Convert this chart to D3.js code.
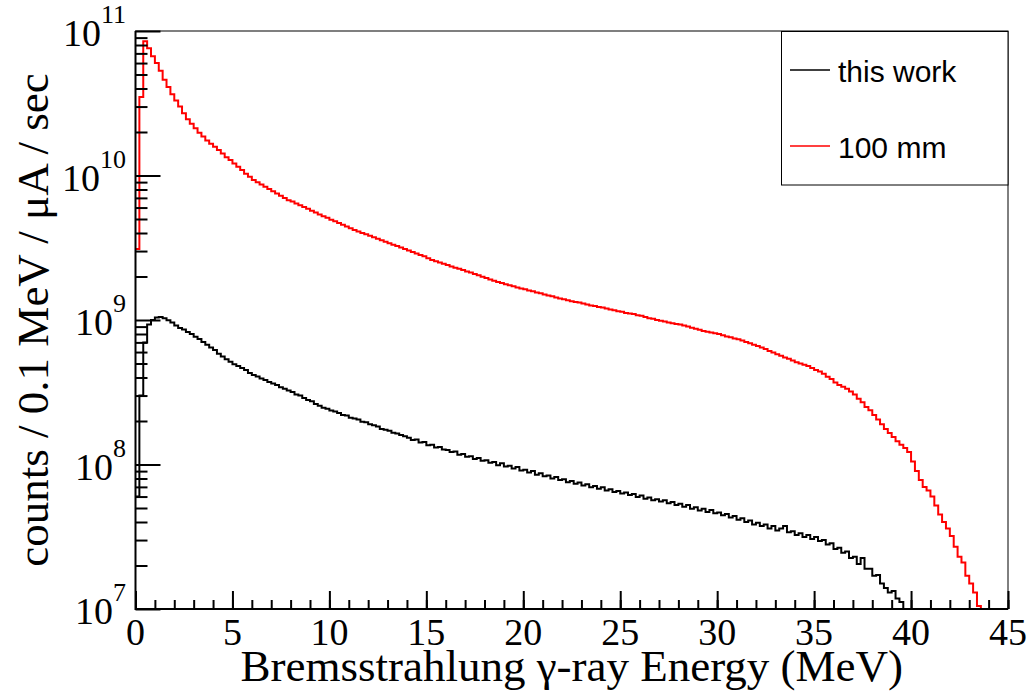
<!doctype html>
<html>
<head>
<meta charset="utf-8"/>
<title>Bremsstrahlung spectrum</title>
<script src="https://d3js.org/d3.v7.min.js"></script>
<style>
body{margin:0;background:#fff;}
text{fill:#000;}
</style>
</head>
<body>
<script>
// histogram bins, 0.2 MeV wide, first bin starts at 0 MeV
var binWidth = 0.2;
var seriesNames = ["this work", "100 mm"];
var seriesColors = ["black", "red"];

// "this work", counts in units of 1e8
var thisWorkUnit = 1e8;
var thisWork = [
 0.6,3.0,7.0,9.3,10.0,10.4,10.5,10.3,9.95,9.6,
 9.15,8.8,8.6,8.25,8.0,7.65,7.4,7.05,6.75,6.45,
 6.2,5.85,5.6,5.35,5.15,4.95,4.8,4.65,4.5,4.3,
 4.16,4.07,3.93,3.85,3.72,3.63,3.55,3.42,3.35,3.25,
 3.18,3.05,3.0,2.88,2.8,2.74,2.62,2.55,2.47,2.43,
 2.36,2.33,2.27,2.2,2.18,2.11,2.08,2.05,1.98,1.96,
 1.9,1.87,1.83,1.76,1.74,1.71,1.66,1.64,1.6,1.57,
 1.53,1.48,1.49,1.42,1.43,1.36,1.37,1.31,1.32,1.27,
 1.26,1.22,1.23,1.17,1.18,1.13,1.14,1.09,1.11,1.06,
 1.07,1.03,1.04,0.99,1.02,0.97,0.98,0.94,0.96,0.91,
 0.92,0.88,0.9,0.85,0.87,0.83,0.84,0.8,0.82,0.78,
 0.79,0.755,0.77,0.735,0.75,0.715,0.73,0.695,0.71,0.68,
 0.695,0.66,0.675,0.645,0.655,0.63,0.64,0.615,0.625,0.595,
 0.61,0.58,0.59,0.565,0.575,0.555,0.565,0.54,0.55,0.525,
 0.535,0.51,0.525,0.495,0.505,0.48,0.495,0.47,0.485,0.46,
 0.465,0.445,0.455,0.43,0.44,0.415,0.425,0.4,0.41,0.385,
 0.395,0.375,0.385,0.36,0.375,0.35,0.36,0.375,0.34,0.345,
 0.325,0.335,0.315,0.325,0.305,0.315,0.295,0.3,0.28,0.285,
 0.26,0.265,0.245,0.25,0.225,0.23,0.205,0.225,0.19,0.19,
 0.17,0.172,0.15,0.14,0.13,0.133,0.118,0.112,0.098
];

// "100 mm", counts in units of 1e9
var mm100Unit = 1e9;
var mm100 = [
 3.1,35,85,76,67,60,53,46,41,36.5,
 33,30,27,24.5,22.8,21.2,19.8,18.6,17.5,16.6,
 15.8,15,14.2,13.4,12.8,12.1,11.5,10.9,10.3,9.8,
 9.3,8.97,8.66,8.36,8.07,7.79,7.51,7.25,7.0,6.75,
 6.6,6.4,6.22,6.05,5.88,5.7,5.55,5.38,5.23,5.1,
 4.95,4.82,4.7,4.57,4.44,4.32,4.2,4.1,4.0,3.92,
 3.83,3.74,3.65,3.56,3.48,3.4,3.32,3.25,3.18,3.1,
 3.03,2.96,2.89,2.82,2.76,2.68,2.6,2.55,2.5,2.45,
 2.4,2.35,2.3,2.26,2.22,2.17,2.13,2.08,2.04,1.99,
 1.95,1.91,1.87,1.83,1.8,1.77,1.74,1.71,1.68,1.65,
 1.63,1.6,1.58,1.55,1.53,1.5,1.48,1.46,1.43,1.41,
 1.39,1.37,1.35,1.33,1.32,1.3,1.28,1.26,1.25,1.23,
 1.22,1.2,1.18,1.17,1.15,1.14,1.12,1.11,1.1,1.08,
 1.07,1.05,1.03,1.02,1.0,0.99,0.975,0.96,0.95,0.94,
 0.93,0.915,0.9,0.885,0.87,0.855,0.84,0.83,0.82,0.81,
 0.8,0.785,0.77,0.76,0.745,0.735,0.72,0.705,0.69,0.675,
 0.66,0.645,0.63,0.61,0.595,0.58,0.565,0.55,0.54,0.525,
 0.51,0.5,0.49,0.48,0.465,0.45,0.44,0.425,0.405,0.39,
 0.37,0.355,0.345,0.335,0.32,0.305,0.285,0.27,0.25,0.237,
 0.22,0.205,0.19,0.176,0.165,0.155,0.145,0.137,0.13,0.122,
 0.105,0.09,0.078,0.07,0.066,0.06,0.052,0.045,0.04,0.036,
 0.032,0.027,0.023,0.021,0.017,0.015,0.013,0.0105,0.008
];

var xTicks = [0,5,10,15,20,25,30,35,40,45];
var yDecades = [7,8,9,10,11];
var xTitle = "Bremsstrahlung \u03b3-ray Energy (MeV)";
var yTitle = "counts / 0.1 MeV / \u03bcA / sec";

var W = 1027, H = 691;
var pLeft = 135.5, pRight = 1008, pTop = 31, pBottom = 609;
var serif = "'Liberation Serif','Times New Roman',serif";
var sans = "'Liberation Sans',Arial,sans-serif";

var svg = d3.select("body").append("svg")
  .attr("width", W).attr("height", H);

var x = d3.scaleLinear().domain([0, 45]).range([pLeft, pRight]);
var y = d3.scaleLog().domain([1e7, 1e11]).range([pBottom, pTop]);

svg.append("clipPath").attr("id", "plotclip")
  .append("rect").attr("x", pLeft).attr("y", pTop)
  .attr("width", pRight - pLeft).attr("height", pBottom - pTop);

// frame
svg.append("rect")
  .attr("x", pLeft).attr("y", pTop)
  .attr("width", pRight - pLeft).attr("height", pBottom - pTop)
  .attr("fill", "none").attr("stroke", "black").attr("stroke-width", 1);

// histograms
function drawHist(vals, unit, color) {
  var pts = vals.map(function(v, i) { return [i * binWidth, Math.max(v * unit, 8e6)]; });
  pts.push([vals.length * binWidth, Math.max(vals[vals.length - 1] * unit, 8e6)]);
  var line = d3.line()
    .x(function(d) { return x(d[0]); })
    .y(function(d) { return y(d[1]); })
    .curve(d3.curveStepAfter);
  svg.append("path")
    .attr("d", line(pts))
    .attr("clip-path", "url(#plotclip)")
    .attr("fill", "none")
    .attr("stroke", color)
    .attr("stroke-width", 2);
}
drawHist(thisWork, thisWorkUnit, seriesColors[0]);
drawHist(mm100, mm100Unit, seriesColors[1]);

// x axis (ticks point up into the frame)
var xMinor = d3.range(0, 46, 1);
svg.append("g").attr("transform", "translate(0," + pBottom + ")")
  .call(d3.axisBottom(x).tickValues(xMinor).tickSize(-9).tickFormat(""))
  .call(function(g) { g.select(".domain").remove(); });
svg.append("g").attr("transform", "translate(0," + pBottom + ")")
  .call(d3.axisBottom(x).tickValues(xTicks).tickSize(-18).tickFormat(""))
  .call(function(g) { g.select(".domain").remove(); });

svg.selectAll(".xlab").data(xTicks).enter().append("text")
  .attr("class", "xlab")
  .attr("x", function(d) { return x(d); })
  .attr("y", 645)
  .attr("text-anchor", "middle")
  .style("font-family", serif).style("font-size", "38px")
  .text(function(d) { return d; });

// y axis
var yMinor = [];
yDecades.slice(0, -1).forEach(function(e) {
  for (var k = 2; k <= 9; k++) yMinor.push(k * Math.pow(10, e));
});
svg.append("g").attr("transform", "translate(" + pLeft + ",0)")
  .call(d3.axisLeft(y).tickValues(yMinor).tickSize(-12).tickFormat(""))
  .call(function(g) { g.select(".domain").remove(); });
svg.append("g").attr("transform", "translate(" + pLeft + ",0)")
  .call(d3.axisLeft(y).tickValues(yDecades.map(function(e) { return Math.pow(10, e); })).tickSize(-25).tickFormat(""))
  .call(function(g) { g.select(".domain").remove(); });
svg.selectAll(".tick line").attr("stroke-width", 2);

var ylab = svg.selectAll(".ylab").data(yDecades).enter().append("text")
  .attr("class", "ylab")
  .attr("x", 126)
  .attr("y", function(d) { return y(Math.pow(10, d)) + 15; })
  .attr("text-anchor", "end")
  .style("font-family", serif).style("font-size", "38px");
ylab.append("tspan").text("10");
ylab.append("tspan").attr("dy", -23).style("font-size", "26px")
  .text(function(d) { return d; });

// axis lines
svg.append("line").attr("x1", pLeft).attr("x2", pRight).attr("y1", pBottom).attr("y2", pBottom)
  .attr("stroke", "black").attr("stroke-width", 2);
svg.append("line").attr("x1", pLeft).attr("x2", pLeft).attr("y1", pTop).attr("y2", pBottom + 1)
  .attr("stroke", "black").attr("stroke-width", 2);

// titles
svg.append("text")
  .attr("x", (pLeft + pRight) / 2).attr("y", 681)
  .attr("text-anchor", "middle")
  .style("font-family", serif).style("font-size", "45px")
  .text(xTitle);
svg.append("text")
  .attr("transform", "translate(48," + ((pTop + pBottom) / 2) + ") rotate(-90)")
  .attr("text-anchor", "middle")
  .style("font-family", serif).style("font-size", "45px")
  .text(yTitle);

// legend
var lg = svg.append("g");
lg.append("rect").attr("x", 781.5).attr("y", 31.5).attr("width", 226.5).attr("height", 153.5)
  .attr("fill", "white").attr("stroke", "black").attr("stroke-width", 1);
var legY = [70, 146];
seriesNames.forEach(function(name, i) {
  lg.append("line").attr("x1", 790).attr("x2", 830)
    .attr("y1", legY[i]).attr("y2", legY[i])
    .attr("stroke", seriesColors[i]).attr("stroke-width", 1.3);
  lg.append("text").attr("x", 838).attr("y", legY[i] + 11.5)
    .style("font-family", sans).style("font-size", "30px")
    .text(name);
});
</script>
</body>
</html>
